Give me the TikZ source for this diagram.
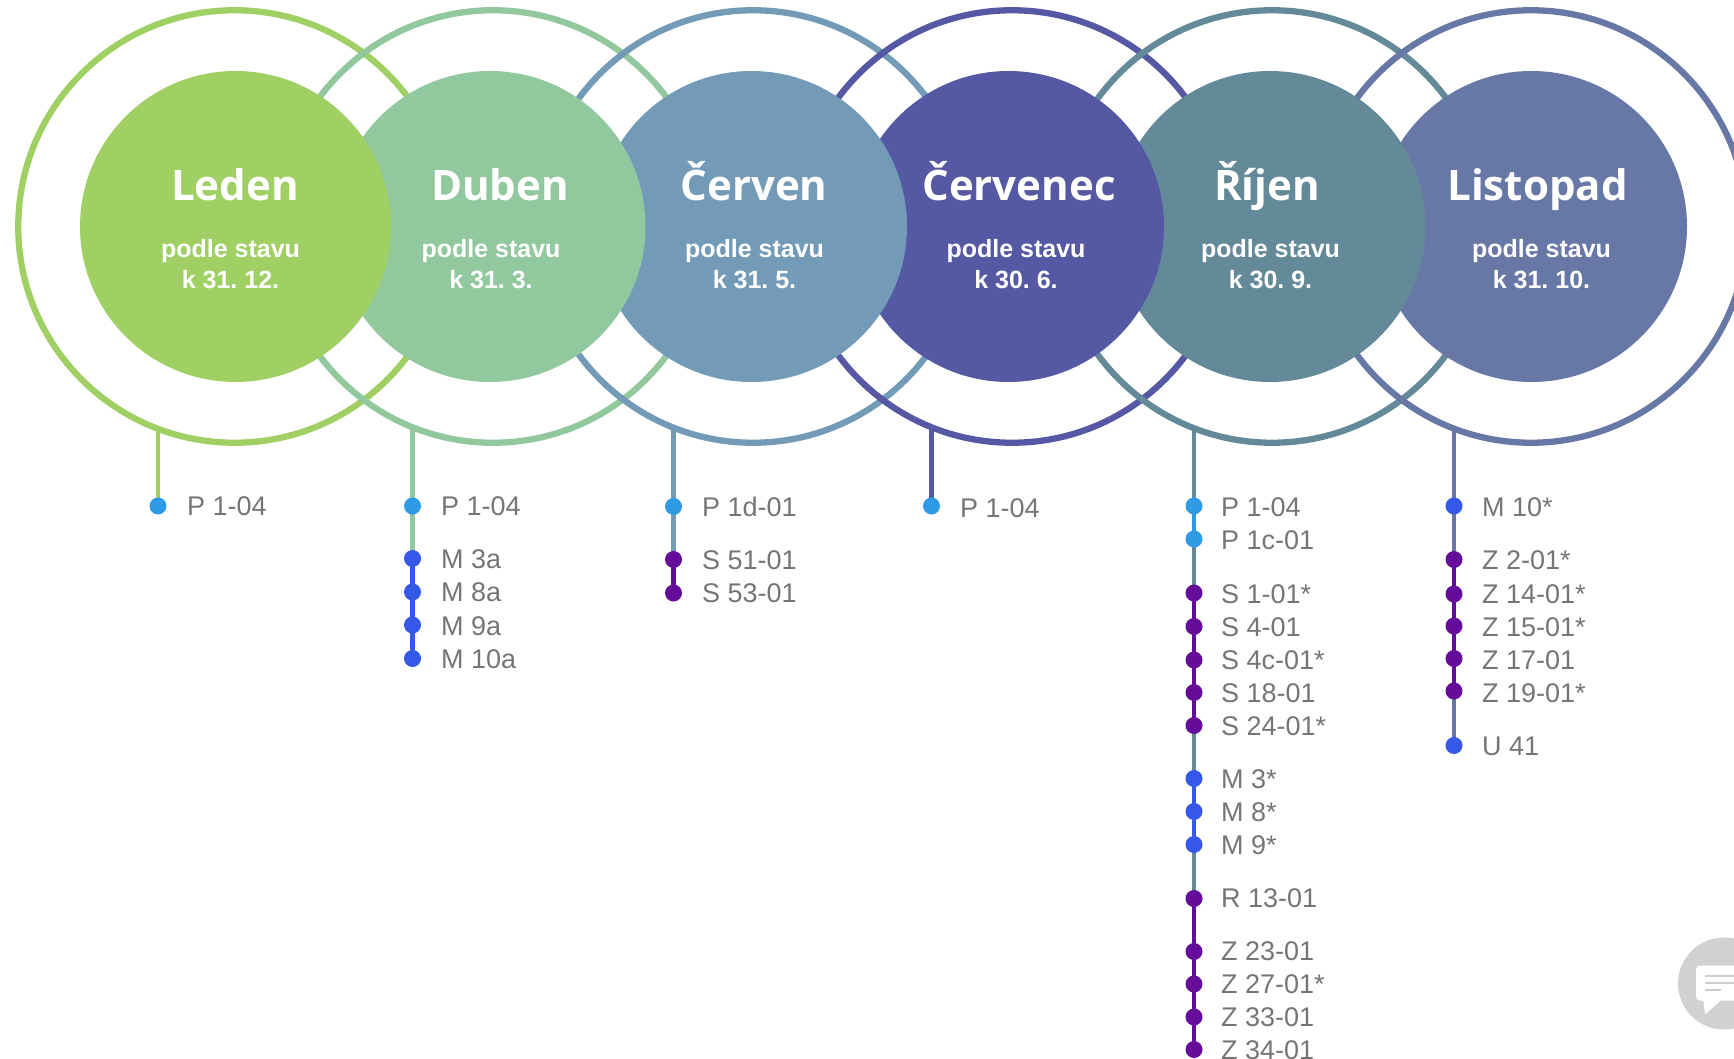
\documentclass[tikz,border=0pt]{standalone}
\usepackage{fontspec}
\usetikzlibrary{backgrounds}
\setmainfont{Liberation Sans}
\newfontfamily\titlefont{Open Sans}
\definecolor{cA}{HTML}{A0D064}
\definecolor{cB}{HTML}{91C89E}
\definecolor{cC}{HTML}{739BB8}
\definecolor{cD}{HTML}{5559A3}
\definecolor{cE}{HTML}{648A9A}
\definecolor{cF}{HTML}{6778A6}
\definecolor{dP}{HTML}{2F9BE6}
\definecolor{dM}{HTML}{3558E8}
\definecolor{dS}{HTML}{660C9A}
\definecolor{txt}{HTML}{757575}
\tikzset{
  x=1pt,y=-1pt,
  ring/.style={circle,draw=#1,line width=6.3pt,minimum size=432.5pt,inner sep=0pt,fill=none},
  disc/.style={circle,fill=#1,draw=none,minimum size=311pt,inner sep=0pt},
  dot/.style={circle,fill=#1,draw=none,minimum size=17pt,inner sep=0pt,outer sep=0pt},
  item/.style={anchor=base west,inner sep=0pt,text=txt,font=\fontsize{27}{27}\selectfont},
  head/.style={anchor=base,inner sep=0pt,text=white,font=\titlefont\bfseries\fontsize{42}{42}\selectfont},
  sub/.style={anchor=base,inner sep=0pt,text=white,font=\bfseries\fontsize{25}{25}\selectfont\frenchspacing},
  stem/.style={line width=4.2pt,draw=#1,line cap=round},
}
\begin{document}
\begin{tikzpicture}
\useasboundingbox (0,0) rectangle (1734,1059);
\clip (0,0) rectangle (1734,1059);
% free ends of the stems, on the rings
\coordinate (sA) at (158,428);
\coordinate (sB) at (412.5,428);
\coordinate (sC) at (673.5,428);
\coordinate (sD) at (931.5,428);
\coordinate (sE) at (1194,428);
\coordinate (sF) at (1454,428);
% dots
\node[dot=dP] (a1) at (158,506) {};
\node[dot=dP] (b1) at (412.5,506) {};
\node[dot=dM] (b2) at (412.5,558.5) {};
\node[dot=dM] (b3) at (412.5,592) {};
\node[dot=dM] (b4) at (412.5,625) {};
\node[dot=dM] (b5) at (412.5,658.5) {};
\node[dot=dP] (c1) at (673.5,506.5) {};
\node[dot=dS] (c2) at (673.5,559.5) {};
\node[dot=dS] (c3) at (673.5,593) {};
\node[dot=dP] (d1) at (931.5,506) {};
\node[dot=dP] (e1) at (1194,506) {};
\node[dot=dP] (e2) at (1194,539) {};
\node[dot=dS] (e3) at (1194,593) {};
\node[dot=dS] (e4) at (1194,626.5) {};
\node[dot=dS] (e5) at (1194,660) {};
\node[dot=dS] (e6) at (1194,692.5) {};
\node[dot=dS] (e7) at (1194,725.5) {};
\node[dot=dM] (e8) at (1194,778.5) {};
\node[dot=dM] (e9) at (1194,811.5) {};
\node[dot=dM] (e10) at (1194,844.5) {};
\node[dot=dS] (e11) at (1194,898.5) {};
\node[dot=dS] (e12) at (1194,951.5) {};
\node[dot=dS] (e13) at (1194,984) {};
\node[dot=dS] (e14) at (1194,1017) {};
\node[dot=dS] (e15) at (1194,1049.5) {};
\node[dot=dM] (f1) at (1454,506) {};
\node[dot=dS] (f2) at (1454,559.5) {};
\node[dot=dS] (f3) at (1454,594) {};
\node[dot=dS] (f4) at (1454,626) {};
\node[dot=dS] (f5) at (1454,658.5) {};
\node[dot=dS] (f6) at (1454,691) {};
\node[dot=dM] (f7) at (1454,745.5) {};
% connectors
\begin{pgfonlayer}{background}
\draw[stem=cA] (sA) -- (a1);
\draw[stem=cB] (sB) -- (b1);
\draw[stem=cB] (b1) -- (b2);
\draw[stem=dM] (b2) -- (b3);
\draw[stem=dM] (b3) -- (b4);
\draw[stem=dM] (b4) -- (b5);
\draw[stem=cC] (sC) -- (c1);
\draw[stem=cC] (c1) -- (c2);
\draw[stem=dS] (c2) -- (c3);
\draw[stem=cD] (sD) -- (d1);
\draw[stem=cE] (sE) -- (e1);
\draw[stem=dP] (e1) -- (e2);
\draw[stem=cE] (e2) -- (e3);
\draw[stem=dS] (e3) -- (e4);
\draw[stem=dS] (e4) -- (e5);
\draw[stem=dS] (e5) -- (e6);
\draw[stem=dS] (e6) -- (e7);
\draw[stem=cE] (e7) -- (e8);
\draw[stem=dM] (e8) -- (e9);
\draw[stem=dM] (e9) -- (e10);
\draw[stem=cE] (e10) -- (e11);
\draw[stem=dS] (e11) -- (e12);
\draw[stem=dS] (e12) -- (e13);
\draw[stem=dS] (e13) -- (e14);
\draw[stem=dS] (e14) -- (e15);
\draw[stem=cF] (sF) -- (f1);
\draw[stem=cF] (f1) -- (f2);
\draw[stem=dS] (f2) -- (f3);
\draw[stem=dS] (f3) -- (f4);
\draw[stem=dS] (f4) -- (f5);
\draw[stem=dS] (f5) -- (f6);
\draw[stem=cF] (f6) -- (f7);
\end{pgfonlayer}
% rings
\node[ring=cA] (rA) at (234.5,226.5) {};
\node[ring=cB] (rB) at (493,226.5) {};
\node[ring=cC] (rC) at (753,226.5) {};
\node[ring=cD] (rD) at (1012,226.5) {};
\node[ring=cE] (rE) at (1272,226.5) {};
\node[ring=cF] (rF) at (1531,226.5) {};
% discs
\node[disc=cF] (iF) at (1531.5,226.5) {};
\node[disc=cE] (iE) at (1270,226.5) {};
\node[disc=cD] (iD) at (1008.5,226.5) {};
\node[disc=cC] (iC) at (751.5,226.5) {};
\node[disc=cB] (iB) at (490,226.5) {};
\node[disc=cA] (iA) at (235.5,226.5) {};
% titles
\node[head] (tA) at (235,201) {Leden};
\node[head] (tB) at (500,200.5) {Duben};
\node[head] (tC) at (754,200.5) {Červen};
\node[head] (tD) at (1019,200.5) {Červenec};
\node[head] (tE) at (1267,200.5) {Říjen};
\node[head] (tF) at (1537.5,200.5) {Listopad};
% subtitles
\node[sub] (uA) at (230.5,258) {podle stavu};
\node[sub] (vA) at (230.5,288.5) {k 31. 12.};
\node[sub] (uB) at (491,258) {podle stavu};
\node[sub] (vB) at (491,288.5) {k 31. 3.};
\node[sub] (uC) at (754.5,258) {podle stavu};
\node[sub] (vC) at (754.5,288.5) {k 31. 5.};
\node[sub] (uD) at (1016,258) {podle stavu};
\node[sub] (vD) at (1016,288.5) {k 30. 6.};
\node[sub] (uE) at (1270.5,258) {podle stavu};
\node[sub] (vE) at (1270.5,288.5) {k 30. 9.};
\node[sub] (uF) at (1541.5,258) {podle stavu};
\node[sub] (vF) at (1541.5,288.5) {k 31. 10.};
% labels
\node[item] (la1) at (187,515) {P 1-04};
\node[item] (lb1) at (441,515) {P 1-04};
\node[item] (lb2) at (441,568) {M 3a};
\node[item] (lb3) at (441,601.5) {M 8a};
\node[item] (lb4) at (441,635.5) {M 9a};
\node[item] (lb5) at (441,668.5) {M 10a};
\node[item] (lc1) at (702,516.5) {P 1d-01};
\node[item] (lc2) at (702,569) {S 51-01};
\node[item] (lc3) at (702,602.5) {S 53-01};
\node[item] (ld1) at (960,517) {P 1-04};
\node[item] (le1) at (1221,516) {P 1-04};
\node[item] (le2) at (1221,549) {P 1c-01};
\node[item] (le3) at (1221,603) {S 1-01*};
\node[item] (le4) at (1221,636) {S 4-01};
\node[item] (le5) at (1221,669.5) {S 4c-01*};
\node[item] (le6) at (1221,702.5) {S 18-01};
\node[item] (le7) at (1221,735.5) {S 24-01*};
\node[item] (le8) at (1221,788.5) {M 3*};
\node[item] (le9) at (1221,821.5) {M 8*};
\node[item] (le10) at (1221,854.5) {M 9*};
\node[item] (le11) at (1221,907) {R 13-01};
\node[item] (le12) at (1221,960) {Z 23-01};
\node[item] (le13) at (1221,993) {Z 27-01*};
\node[item] (le14) at (1221,1026) {Z 33-01};
\node[item] (le15) at (1221,1059) {Z 34-01};
\node[item] (lf1) at (1482,516) {M 10*};
\node[item] (lf2) at (1482,569) {Z 2-01*};
\node[item] (lf3) at (1482,603) {Z 14-01*};
\node[item] (lf4) at (1482,636) {Z 15-01*};
\node[item] (lf5) at (1482,669) {Z 17-01};
\node[item] (lf6) at (1482,702) {Z 19-01*};
\node[item] (lf7) at (1482,755.5) {U 41};
% chat badge
\fill[black!18] (1724,983.5) circle (46);
\fill[white,rounded corners=4pt] (1696,965.5) -- (1740,965.5) -- (1740,1000.5) -- (1696,1000.5) -- cycle;
\fill[white] (1703,998.5) -- (1705,1014.5) -- (1722,999.5) -- cycle;
\fill[black!20] (1705,974.5) rectangle (1740,977);
\fill[black!20] (1705,981.5) rectangle (1740,984);
\fill[black!20] (1705,988.5) rectangle (1721,991);
\end{tikzpicture}
\end{document}
